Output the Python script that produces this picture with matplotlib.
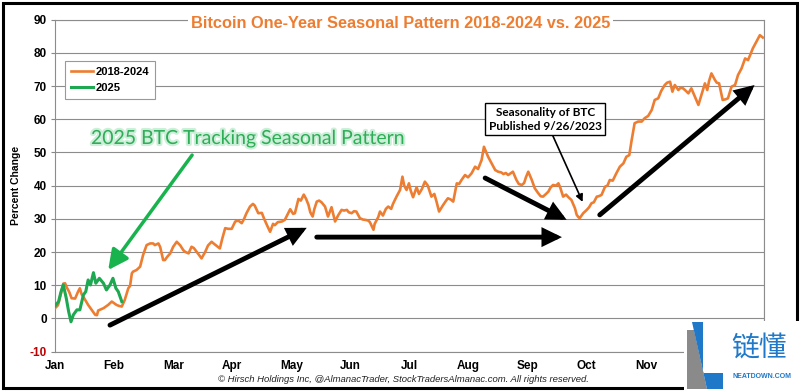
import matplotlib.pyplot as plt
import matplotlib.patheffects as pe
from matplotlib.patches import Rectangle, Polygon, FancyArrowPatch

plt.rcParams['font.family'] = ['Liberation Sans', 'DejaVu Sans']

months = ["Jan", "Feb", "Mar", "Apr", "May", "Jun", "Jul", "Aug", "Sep", "Oct", "Nov", "Dec"]
yticks = list(range(-10, 100, 10))

# 2018-2024 average seasonal pattern (x = months elapsed since Jan 1, y = % change)
hist_x = [0.00, 0.05, 0.10, 0.14, 0.17, 0.20, 0.24, 0.28, 0.34, 0.39, 0.42, 0.45, 0.48, 0.51,
          0.56, 0.62, 0.68, 0.71, 0.73, 0.78, 0.82, 0.86, 0.90, 0.96, 1.00, 1.04, 1.08, 1.13,
          1.18, 1.24, 1.27, 1.30, 1.32, 1.38, 1.44, 1.49, 1.55, 1.61, 1.66, 1.69, 1.75, 1.78,
          1.83, 1.86, 1.90, 1.95, 2.00, 2.06, 2.12, 2.17, 2.20, 2.26, 2.31, 2.35, 2.40, 2.44,
          2.48, 2.54, 2.59, 2.65, 2.69, 2.74, 2.79, 2.83, 2.88, 2.93, 2.99, 3.05, 3.10, 3.16,
          3.20, 3.24, 3.30, 3.35, 3.38, 3.44, 3.50, 3.54, 3.59, 3.64, 3.69, 3.72, 3.77, 3.84,
          3.89, 3.94, 3.98, 4.03, 4.06, 4.12, 4.16, 4.21, 4.25, 4.29, 4.32, 4.36, 4.39, 4.43,
          4.47, 4.51, 4.57, 4.62, 4.68, 4.74, 4.79, 4.85, 4.89, 4.94, 4.97, 5.02, 5.06, 5.10,
          5.16, 5.21, 5.25, 5.30, 5.33, 5.39, 5.41, 5.47, 5.50, 5.55, 5.60, 5.64, 5.69, 5.72,
          5.78, 5.84, 5.88, 5.91, 5.95, 5.99, 6.02, 6.06, 6.12, 6.16, 6.21, 6.26, 6.31, 6.37,
          6.42, 6.46, 6.50, 6.57, 6.62, 6.65, 6.70, 6.74, 6.80, 6.84, 6.88, 6.94, 6.99, 7.05,
          7.11, 7.16, 7.22, 7.26, 7.30, 7.33, 7.39, 7.45, 7.50, 7.55, 7.59, 7.63, 7.67, 7.72,
          7.75, 7.81, 7.85, 7.90, 7.94, 7.97, 8.01, 8.07, 8.12, 8.18, 8.22, 8.26, 8.31, 8.35,
          8.39, 8.43, 8.48, 8.52, 8.55, 8.60, 8.65, 8.69, 8.74, 8.80, 8.83, 8.86, 8.88, 8.94,
          9.00, 9.04, 9.08, 9.12, 9.17, 9.20, 9.25, 9.31, 9.35, 9.39, 9.44, 9.50, 9.56, 9.62,
          9.67, 9.72, 9.76, 9.81, 9.87, 9.93, 9.98, 10.04, 10.10, 10.15, 10.21, 10.26, 10.32,
          10.36, 10.41, 10.45, 10.49, 10.55, 10.59, 10.63, 10.68, 10.72, 10.77, 10.83, 10.89,
          10.94, 11.00, 11.04, 11.07, 11.11, 11.17, 11.20, 11.24, 11.30, 11.35, 11.39, 11.45,
          11.51, 11.56, 11.62, 11.68, 11.73, 11.77, 11.81, 11.87, 11.93, 11.98]
hist_y = [3.1, 4.0, 7.5, 10.5, 10.6, 9.3, 8.0, 6.1, 6.0, 8.1, 9.1, 7.3, 6.5, 5.6,
          4.1, 2.6, 1.1, 1.0, 2.4, 2.8, 3.1, 3.6, 4.1, 5.1, 4.6, 4.1, 3.8, 3.6,
          5.6, 9.1, 9.8, 13.6, 14.1, 14.6, 15.6, 19.1, 22.1, 22.6, 22.6, 22.1, 22.6, 21.5,
          17.6, 17.6, 18.6, 19.6, 21.6, 23.1, 22.0, 20.6, 20.1, 19.6, 21.6, 21.2, 20.0, 19.0,
          18.1, 20.0, 22.0, 23.1, 22.5, 21.8, 21.1, 24.0, 27.2, 27.0, 27.0, 29.2, 29.5, 28.7,
          30.0, 31.7, 33.7, 34.5, 34.0, 31.7, 31.8, 30.0, 28.0, 26.1, 28.5, 28.1, 29.0, 29.2,
          29.7, 31.5, 32.9, 31.5, 31.7, 36.0, 35.5, 37.3, 36.0, 34.2, 32.0, 30.7, 33.0, 35.2,
          35.5, 35.0, 33.7, 30.7, 33.5, 29.2, 31.0, 32.7, 32.5, 32.7, 32.0, 31.7, 32.3, 32.2,
          30.2, 29.8, 29.7, 29.5, 29.0, 26.7, 28.5, 30.5, 32.2, 31.0, 33.0, 33.7, 33.0, 34.5,
          36.7, 38.7, 42.7, 40.0, 38.7, 40.7, 38.5, 36.5, 39.5, 37.5, 39.0, 41.2, 40.0, 36.7,
          37.5, 35.0, 32.2, 34.2, 35.5, 36.2, 35.8, 35.2, 40.7, 40.5, 41.7, 43.2, 42.5, 43.7,
          45.7, 45.0, 47.7, 51.7, 50.0, 48.7, 46.7, 44.7, 44.2, 44.0, 43.5, 43.8, 43.2, 43.8,
          44.2, 41.7, 40.5, 40.2, 40.8, 42.5, 44.2, 41.7, 39.2, 37.7, 36.8, 36.7, 37.5, 38.2,
          39.5, 40.2, 40.0, 40.7, 39.5, 36.7, 37.3, 36.5, 35.7, 33.2, 31.2, 30.5, 30.2, 31.7,
          32.7, 33.5, 34.7, 35.0, 36.7, 36.8, 37.2, 39.7, 40.0, 41.7, 41.5, 43.7, 45.7, 46.7,
          48.7, 49.2, 53.7, 58.8, 59.3, 59.3, 60.3, 61.0, 62.8, 65.8, 66.3, 68.5, 70.3,
          71.0, 71.3, 68.3, 70.3, 68.8, 69.5, 69.3, 68.5, 67.8, 69.3, 66.8, 64.3,
          67.3, 70.8, 68.8, 71.5, 73.8, 71.8, 71.0, 70.8, 65.8, 66.0, 66.3, 69.8,
          70.3, 73.3, 75.3, 78.3, 77.8, 79.5, 81.3, 83.3, 85.3, 84.6]

# 2025 year to date
y25_x = [0.00, 0.06, 0.10, 0.14, 0.19, 0.23, 0.27, 0.31, 0.37, 0.42, 0.48, 0.52, 0.56, 0.60,
         0.65, 0.69, 0.75, 0.82, 0.87, 0.93, 0.98, 1.03, 1.07, 1.13]
y25_y = [3.8, 5.1, 8.0, 10.1, 6.1, 2.1, -1.0, 1.1, 2.6, 2.6, 7.1, 8.1, 11.6, 10.1,
         13.8, 10.6, 12.1, 10.6, 8.6, 10.1, 12.1, 9.1, 8.1, 5.1]

orange = "#ED7D31"
green = "#1DA851"

fig = plt.figure(figsize=(8, 3.91), dpi=100)
ax = fig.add_axes([0.0688, 0.1005, 0.8862, 0.8494])

ax.plot(hist_x, hist_y, color=orange, lw=1.9, label="2018-2024", zorder=3)
ax.plot(y25_x, y25_y, color=green, lw=2.2, label="2025", zorder=4)

ax.set_xlim(0, 12)
ax.set_ylim(-10, 90)
ax.set_xticks(range(12))
ax.set_xticklabels(months, fontweight="bold", fontsize=8.5)
ax.set_xticks(range(13), minor=True)
ax.set_yticks(yticks)
ax.set_yticklabels([str(v) for v in yticks], fontweight="bold", fontsize=8.5)
ax.get_yticklabels()[0].set_color("#C00000")
ax.tick_params(axis="both", which="both", length=3, color="#888888", pad=3)
ax.tick_params(axis="x", which="major", length=0, pad=6)
ax.grid(True, which="minor", axis="x", color="#8c8c8c", lw=0.8)
ax.grid(True, which="major", axis="y", color="#8c8c8c", lw=0.8)
for s in ax.spines.values():
    s.set_color("#8c8c8c")
    s.set_linewidth(0.8)
ax.set_ylabel("Percent Change", fontweight="bold", fontsize=7.5, labelpad=6)

leg = ax.legend(loc="upper left", bbox_to_anchor=(0.014, 0.875), borderaxespad=0,
                prop={"weight": "bold", "size": 8}, handlelength=2.0, handletextpad=0.3,
                fancybox=False, framealpha=1, edgecolor="#999999", borderpad=0.5,
                labelspacing=0.6)
leg.get_frame().set_linewidth(0.8)

# title with white backing over the top grid line
fig.text(0.5006, 1 - 23.5 / 391, "Bitcoin One-Year Seasonal Pattern 2018-2024 vs. 2025",
         ha="center", va="center", color=orange, fontsize=11.8, fontweight="bold",
         bbox=dict(facecolor="white", edgecolor="none", pad=2))

# green callout
ax.text(3.27, 54.2, "2025 BTC Tracking Seasonal Pattern", ha="center", va="center",
        color="#2EAD57", fontsize=14, family=["Lato", "DejaVu Sans"],
        path_effects=[pe.withStroke(linewidth=3, foreground="#cdeed8")], zorder=6)
ax.add_patch(FancyArrowPatch((2.32, 49.2), (0.90, 14.6), arrowstyle="-|>,head_length=0.6,head_width=0.3",
                             mutation_scale=20, lw=2.5, color="#19B34E", zorder=6,
                             shrinkA=0, shrinkB=0))

# black trend arrows
arrows = [((0.93, -2.0), (4.26, 27.3)),
          ((4.43, 24.5), (8.58, 24.5)),
          ((7.28, 42.3), (8.66, 29.7)),
          ((9.22, 31.2), (11.84, 70.3))]
for a, b in arrows:
    ax.add_patch(FancyArrowPatch(a, b, arrowstyle="-|>,head_length=0.45,head_width=0.22",
                                 mutation_scale=20, lw=3.5, color="black",
                                 shrinkA=0, shrinkB=0, zorder=5, joinstyle="miter"))

# publication note
ax.annotate("Seasonality of BTC\nPublished 9/26/2023", xy=(8.93, 35.1), xytext=(8.30, 60.0),
            ha="center", va="center", fontsize=8.5, fontweight="bold", family=["Lato", "DejaVu Sans"],
            linespacing=1.3,
            bbox=dict(boxstyle="square,pad=0.3", facecolor="white", edgecolor="black", lw=1),
            arrowprops=dict(arrowstyle="-|>,head_length=0.5,head_width=0.25", color="black", lw=1.2,
                            shrinkA=0, shrinkB=0),
            zorder=7)

fig.text(0.504, 1 - 379 / 391,
         "\u00a9 Hirsch Holdings Inc, @AlmanacTrader, StockTradersAlmanac.com. All rights reserved.",
         ha="center", va="center", fontsize=6.8, style="italic", color="#222222")

# outer frame
fig.patches.append(Rectangle((3 / 800, 3 / 391), 794 / 800, 385 / 391, transform=fig.transFigure,
                             fill=False, edgecolor="black", lw=2.2, zorder=8))

# watermark logo in the corner
W, H = 800.0, 391.0
fig.patches.append(Rectangle((684 / W, 0), 116 / W, 70 / H, transform=fig.transFigure,
                             facecolor="white", edgecolor="none", zorder=9))
fig.patches.append(Polygon([(687 / W, 1 - 330 / H), (694 / W, 1 - 330 / H), (707 / W, 1 - 389 / H),
                            (687 / W, 1 - 389 / H)], closed=True, transform=fig.transFigure,
                           facecolor="#8a8a8a", edgecolor="none", zorder=10))
fig.patches.append(Polygon([(692 / W, 1 - 322 / H), (703 / W, 1 - 322 / H), (703 / W, 1 - 373 / H),
                            (723 / W, 1 - 373 / H), (723 / W, 1 - 389 / H), (707 / W, 1 - 389 / H)],
                           closed=True, transform=fig.transFigure,
                           facecolor="#1f78c8", edgecolor="none", zorder=10))
fig.text(759 / W, 1 - 348 / H, "链懂", ha="center", va="center", fontsize=20, color="#1f78c8",
         family=["Noto Sans CJK SC", "DejaVu Sans"], zorder=11)
fig.text(762 / W, 1 - 376 / H, "NEATDOWN.COM", ha="center", va="center", fontsize=5,
         fontweight="bold", color="#1f78c8", zorder=11)

fig.savefig("out.png", dpi=100)
